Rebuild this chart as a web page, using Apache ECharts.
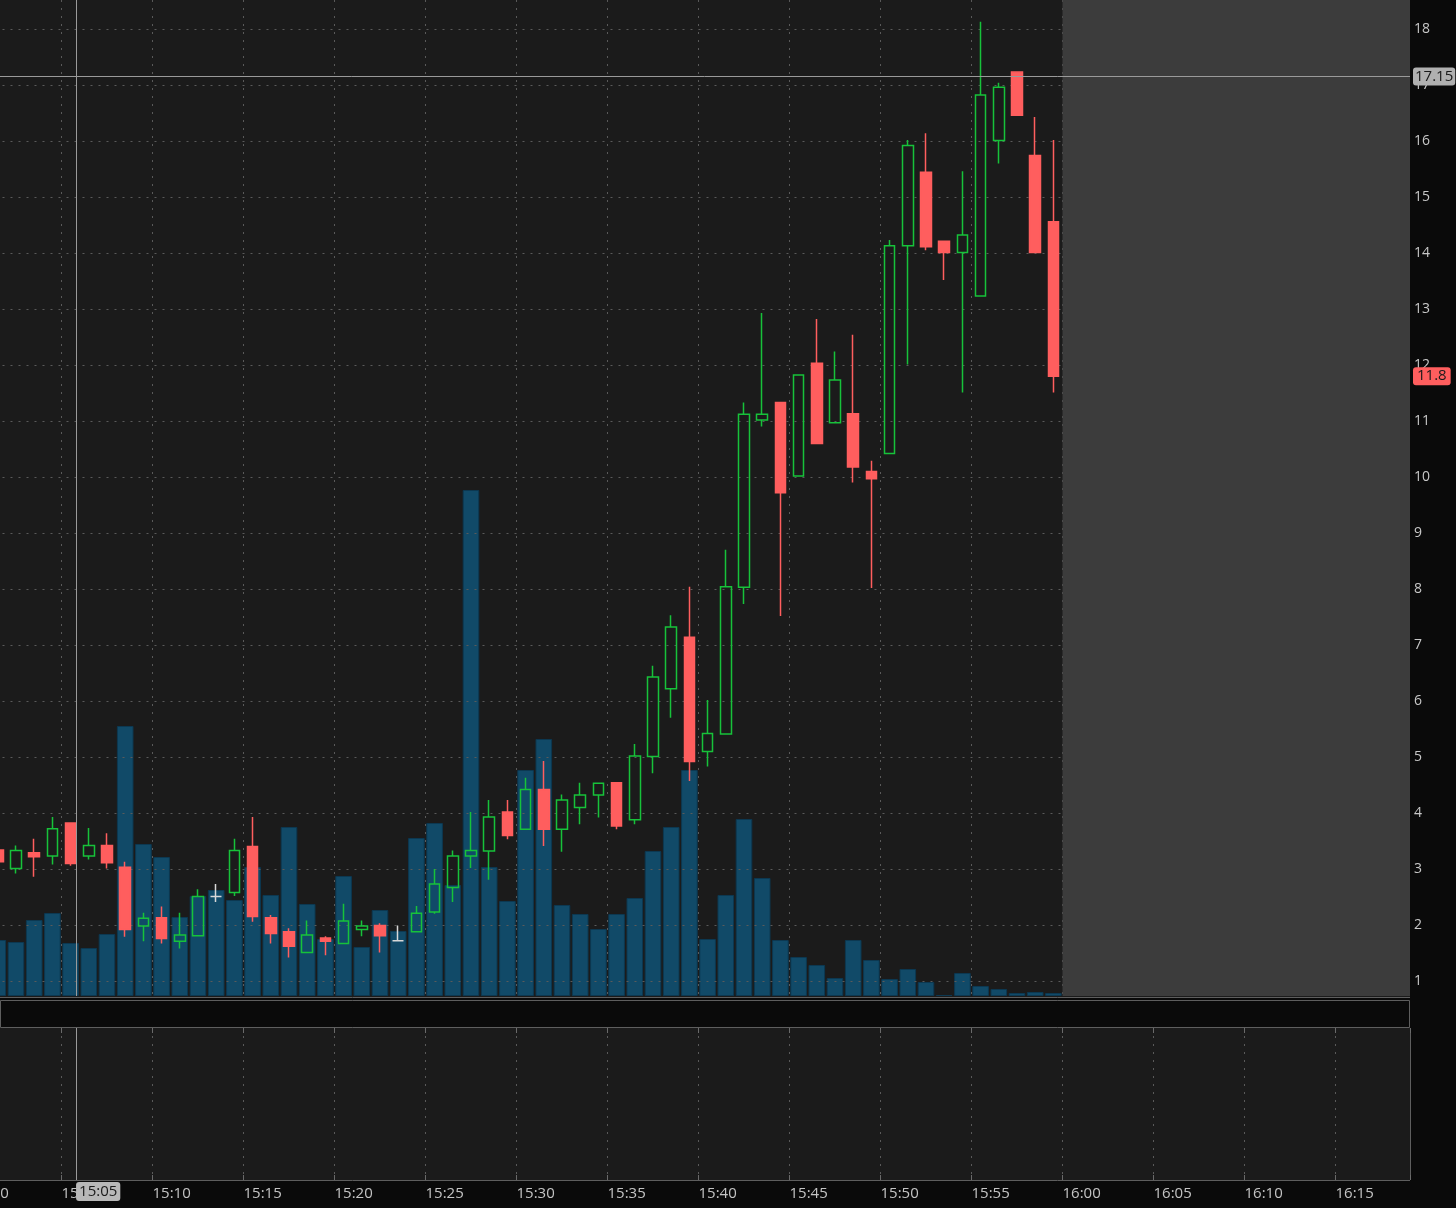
<!DOCTYPE html>
<html><head><meta charset="utf-8">
<script src="https://cdn.jsdelivr.net/npm/echarts@6/dist/echarts.min.js"></script>
<style>html,body{margin:0;padding:0;background:#0a0a0a}#c{width:1456px;height:1208px}</style>
</head><body><div id="c"></div><script>
// ---------------- DATA ----------------
const barTimes = ['15:01','15:02','15:03','15:04','15:05','15:06','15:07','15:08','15:09','15:10',
  '15:11','15:12','15:13','15:14','15:15','15:16','15:17','15:18','15:19','15:20',
  '15:21','15:22','15:23','15:24','15:25','15:26','15:27','15:28','15:29','15:30',
  '15:31','15:32','15:33','15:34','15:35','15:36','15:37','15:38','15:39','15:40',
  '15:41','15:42','15:43','15:44','15:45','15:46','15:47','15:48','15:49','15:50',
  '15:51','15:52','15:53','15:54','15:55','15:56','15:57','15:58','15:59'];
const opens  = [3.34,3.01,3.29,3.23,3.82,3.23,3.42,3.03,1.98,2.13,
  1.71,1.81,2.51,2.58,3.40,2.13,1.88,1.51,1.77,1.67,
  1.92,1.99,1.72,1.88,2.23,2.67,3.23,3.32,4.02,3.71,
  4.42,3.71,4.10,4.32,4.54,3.88,5.01,6.22,7.14,5.10,
  5.41,8.03,11.02,11.33,10.02,12.03,10.97,11.13,10.10,10.42,
  14.13,15.44,14.21,14.01,13.23,16.01,17.23,15.74,14.56];
const closes = [3.13,3.33,3.22,3.72,3.10,3.42,3.11,1.92,2.12,1.76,
  1.82,2.51,2.51,3.33,2.15,1.85,1.62,1.82,1.71,2.07,
  1.98,1.81,1.72,2.21,2.73,3.23,3.33,3.93,3.60,4.42,
  3.71,4.23,4.32,4.53,3.77,5.02,6.43,7.32,4.92,5.42,
  8.04,11.12,11.12,9.72,11.82,10.60,11.73,10.18,9.97,14.13,
  15.92,14.11,14.01,14.32,16.82,16.96,16.46,14.01,11.80];
const lows   = [3.10,2.92,2.86,3.08,3.06,3.17,3.01,1.79,1.71,1.67,
  1.58,1.81,2.41,2.52,2.06,1.67,1.42,1.51,1.46,1.67,
  1.80,1.51,1.72,1.88,2.20,2.41,3.02,2.81,3.53,3.71,
  3.41,3.31,3.80,3.92,3.71,3.80,4.71,5.70,4.57,4.83,
  5.41,7.73,10.90,7.52,10.02,10.60,10.97,9.90,8.02,10.42,
  12.01,14.05,13.52,11.51,13.23,15.60,16.46,14.01,11.51];
const highs  = [3.36,3.42,3.54,3.93,3.82,3.73,3.64,3.13,2.22,2.33,
  2.22,2.64,2.73,3.54,3.93,2.18,1.94,2.08,1.80,2.38,
  2.08,2.03,1.99,2.34,3.00,3.33,4.02,4.23,4.23,4.63,
  4.93,4.33,4.54,4.53,4.54,5.23,6.63,7.53,8.04,6.02,
  8.70,11.33,12.93,11.33,11.82,12.82,12.24,12.54,10.29,14.23,
  16.02,16.14,14.21,15.46,18.13,17.04,17.23,16.43,16.02];
// volume in thousands of shares
const volumes = [56,54,76,83,53,48,62,270,152,139,
  79,100,106,96,129,101,169,92,57,120,
  49,86,65,158,173,111,506,129,95,226,
  257,91,82,67,82,98,145,169,226,57,
  101,177,118,56,39,31,18,56,36,17,
  27,14,1,23,10,7,3,4,3];
const timeTicks = ['15:00','15:05','15:10','15:15','15:20','15:25','15:30','15:35',
  '15:40','15:45','15:50','15:55','16:00','16:05','16:10','16:15'];
const priceTicks = [1,2,3,4,5,6,7,8,9,10,11,12,13,14,15,16,17,18];
const sessionEnd = '16:00';
const lastPrice = 11.8;
const cursorPrice = 17.15;
const cursorTime = '15:05';
const cursorSeconds = 48;

// ---------------- LAYOUT ----------------
const PX_PER_MIN = 18.2, X_ORIGIN = -29.5, PLOT_RIGHT = 1410;
const X_MAX = (PLOT_RIGHT - X_ORIGIN) / PX_PER_MIN;
const PX_PER_DOLLAR = 56, Y_ZERO = 1037, PANE_BOTTOM = 997;
const PRICE_MAX = Y_ZERO / PX_PER_DOLLAR;
const VOL_MAX = 996;
const LOW_TOP = 1028, LOW_BOTTOM = 1180;

const FONT = '"Open Sans", "Noto Sans", sans-serif';
const GREEN = '#17c23a', RED = '#ff5e5e';
const GRID_LINE = {show: true, lineStyle: {color: '#5a5a5a', width: 1, type: [2, 6]}, showMinLine: false, showMaxLine: false};

function toMin(s) { const [h, m] = s.split(':').map(Number); return h * 60 + m - 15 * 60; }
const xs = barTimes.map(t => toMin(t) + 0.5);
const candleData = xs.map((x, i) => [x, opens[i], closes[i], lows[i], highs[i]]);
const volumeData = xs.map((x, i) => [x, volumes[i]]);
const cursorX = toMin(cursorTime) + cursorSeconds / 60;

function xAxisBase(idx) {
  return {type: 'value', gridIndex: idx, min: 0, max: X_MAX, interval: 5,
    axisLine: {show: false}, axisTick: {show: false}, axisLabel: {show: false}, splitLine: {show: false}};
}
function gridAt(top, height) {
  return {left: X_ORIGIN, top: top, width: PLOT_RIGHT - X_ORIGIN, height: height,
    containLabel: false, outerBoundsMode: 'none'};
}
const TICK5 = {show: true, inside: true, length: 5, lineStyle: {color: '#6a6a6a'}};

const chart = echarts.init(document.getElementById('c'), null, {renderer: 'canvas'});
chart.setOption({
  animation: false,
  backgroundColor: '#0a0a0a',
  grid: [gridAt(0, VOL_MAX), gridAt(0, Y_ZERO), gridAt(LOW_TOP, LOW_BOTTOM - LOW_TOP)],
  xAxis: [
    Object.assign(xAxisBase(0), {splitLine: GRID_LINE}),
    xAxisBase(1),
    Object.assign(xAxisBase(2), {
      splitLine: GRID_LINE,
      axisTick: TICK5,
      axisLabel: {show: true, align: 'left', margin: 6, color: '#c4c4c4', fontSize: 15, fontFamily: FONT,
        showMinLabel: true, hideOverlap: false,
        formatter: v => (Number.isInteger(v) && v % 5 === 0 && timeTicks[v / 5]) || ''}
    }),
    Object.assign(xAxisBase(2), {position: 'top', axisTick: TICK5})
  ],
  yAxis: [
    {type: 'value', gridIndex: 0, min: 0, max: VOL_MAX, show: false},
    {type: 'value', gridIndex: 1, position: 'right', min: 0, max: PRICE_MAX, interval: 1,
      axisLine: {show: true, lineStyle: {color: '#5a5a5a'}},
      axisTick: {show: true, inside: true, length: 5, lineStyle: {color: '#777'}},
      minorTick: {show: true, splitNumber: 5, length: 2, lineStyle: {color: '#555'}},
      splitLine: GRID_LINE,
      axisLabel: {margin: 4, color: '#c8c8c8', fontSize: 14, fontFamily: FONT,
        formatter: v => priceTicks.includes(v) ? String(v) : ''}},
    {type: 'value', gridIndex: 2, min: 0, max: 1, show: false}
  ],
  graphic: [
    {type: 'rect', z: -10, shape: {x: 0, y: 0, width: PLOT_RIGHT, height: PANE_BOTTOM}, style: {fill: '#1b1b1b'}},
    {type: 'rect', z: -10, shape: {x: 0, y: LOW_TOP, width: PLOT_RIGHT, height: LOW_BOTTOM - LOW_TOP}, style: {fill: '#1b1b1b'}},
    {type: 'rect', z: -10, shape: {x: 0.5, y: 1000.5, width: PLOT_RIGHT - 1, height: 27}, style: {fill: '#0a0a0a', stroke: '#5e5e5e', lineWidth: 1}},
    {type: 'line', z: -9, shape: {x1: 0, y1: PANE_BOTTOM + 0.5, x2: PLOT_RIGHT, y2: PANE_BOTTOM + 0.5}, style: {stroke: '#5e5e5e', lineWidth: 1}},
    {type: 'line', z: -9, shape: {x1: 0, y1: LOW_BOTTOM + 0.5, x2: PLOT_RIGHT, y2: LOW_BOTTOM + 0.5}, style: {stroke: '#5e5e5e', lineWidth: 1}},
    {type: 'line', z: -9, shape: {x1: PLOT_RIGHT + 0.5, y1: LOW_TOP, x2: PLOT_RIGHT + 0.5, y2: LOW_BOTTOM}, style: {stroke: '#5e5e5e', lineWidth: 1}}
  ],
  series: [
    {type: 'bar', name: 'Volume', xAxisIndex: 0, yAxisIndex: 0, z: -5, data: volumeData, barWidth: 16.6,
      itemStyle: {color: '#114a68', borderColor: '#0c3851', borderWidth: 1},
      markArea: {silent: true, itemStyle: {color: '#3c3c3c'},
        data: [[{xAxis: toMin(sessionEnd)}, {xAxis: X_MAX}]]},
      markLine: {silent: true, symbol: 'none', animation: false,
        lineStyle: {color: '#9a9a9a', width: 1, type: 'solid'}, label: {show: false},
        data: [{xAxis: cursorX}]}},
    {type: 'candlestick', name: 'Price', xAxisIndex: 1, yAxisIndex: 1, data: candleData, barWidth: 11,
      itemStyle: {color: 'transparent', color0: RED, borderColor: GREEN, borderColor0: RED,
        borderColorDoji: '#d8d8d8', borderWidth: 1.5},
      markLine: {silent: true, symbol: 'none', animation: false,
        data: [
          {yAxis: cursorPrice, lineStyle: {color: '#9a9a9a', width: 1, type: 'solid'},
            label: {show: true, position: 'end', distance: 3, formatter: String(cursorPrice),
              color: '#1a1a1a', backgroundColor: '#b0b0b0', padding: [2, 2, 1, 2], borderRadius: 3,
              fontSize: 15, fontFamily: FONT}},
          {yAxis: lastPrice, lineStyle: {color: 'rgba(0,0,0,0)', width: 1, type: 'solid'},
            label: {show: true, position: 'end', distance: 3, formatter: String(lastPrice),
              color: '#1a1a1a', backgroundColor: RED, padding: [2, 4, 1, 4], borderRadius: 3,
              fontSize: 15, fontFamily: FONT}}
        ]}},
    {type: 'line', name: 'cursor', xAxisIndex: 2, yAxisIndex: 2, data: [[0, -1]], showSymbol: false,
      lineStyle: {opacity: 0},
      markLine: {silent: true, symbol: 'none', animation: false,
        lineStyle: {color: '#9a9a9a', width: 1, type: 'solid'},
        data: [{xAxis: cursorX, label: {show: true, position: 'start', distance: 2, align: 'left',
          formatter: cursorTime, color: '#1a1a1a', backgroundColor: '#b8b8b8', padding: [2, 3, 2, 3],
          borderRadius: 3, fontSize: 15, fontFamily: FONT}}]}}
  ]
});
</script></body></html>
